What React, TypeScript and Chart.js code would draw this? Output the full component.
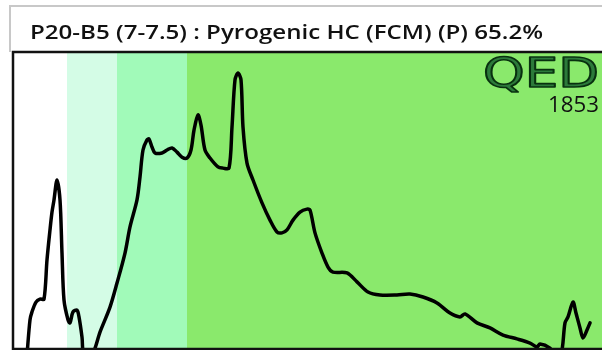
import React, { useEffect, useRef } from "react";
import { Chart, registerables } from "chart.js";

Chart.register(...registerables);

const TITLE = "P20-B5 (7-7.5) : Pyrogenic HC (FCM) (P) 65.2%";
const LOGO = "QED";
const LOGO_YEAR = "1853";

// band boundaries (x units) and colours
const bandEdges = [0, 5.5, 10.5, 17.5, 59];
const bandColors = ["#ffffff", "#d4fce6", "#a1fab9", "#8ae96c"];

// trace: x (retention units) and signal (%)
const traceX = [
  1.5, 1.8, 2.0, 2.4, 2.8, 3.2, 3.5, 3.8, 4.0, 4.2, 4.5, 4.8, 5.0, 5.2, 5.6, 5.8,
  6.1, 6.5, 6.7, 7.0, 7.2, 8.0, 8.8, 9.8, 10.5, 11.3, 11.8, 12.5, 12.8, 13.1,
  13.5, 13.7, 14.0, 14.3, 15.0, 15.5, 16.0, 16.5, 17.0, 17.5, 17.9, 18.2, 18.6,
  18.9, 19.3, 19.8, 20.6, 21.1, 21.7, 22.0, 22.3, 22.6, 22.9, 23.1, 23.5, 24.1,
  25.0, 25.8, 26.5, 27.0, 27.5, 28.1, 28.8, 29.5, 29.8, 30.3, 31.0, 31.6, 32.1,
  33.5, 34.5, 35.6, 36.8, 38.5, 39.8, 41.1, 42.5, 43.8, 44.8, 45.3, 46.5, 47.8,
  49.1, 50.5, 51.8, 52.5, 52.8, 53.8, 54.3, 54.9, 55.3, 55.6, 56.1, 56.4, 56.8,
  57.1, 57.5, 57.8,
];
const traceY = [
  -2, 9.8, 12.5, 15.8, 16.8, 16.8, 30.0, 40.1, 46.1, 50.2, 56.9, 50.2, 32.3, 16.5,
  9.8, 8.8, 12.5, 13.1, 10.8, 4.0, -2, -2, 5.7, 14.1, 22.2, 32.3, 41.1, 50.2,
  57.9, 67.0, 70.4, 70.7, 68.0, 66.0, 66.0, 67.0, 67.7, 66.3, 64.6, 64.3, 67.0,
  73.7, 78.8, 75.4, 67.0, 64.3, 61.3, 60.9, 60.9, 74.7, 90.6, 92.9, 90.6, 74.7,
  62.6, 56.9, 49.2, 43.4, 39.4, 39.1, 40.1, 43.4, 46.1, 47.1, 46.8, 39.1, 32.3,
  27.6, 25.9, 25.6, 22.6, 19.2, 18.2, 18.2, 18.5, 17.5, 15.5, 12.1, 10.8, 11.8,
  8.8, 7.1, 4.7, 3.4, 2.0, 0.7, 1.7, 0.3, -2, -2, 8.8, 10.8, 15.8, 12.1, 7.1,
  3.7, 6.4, 8.8,
];

const decorPlugin = {
  id: "decor",
  beforeDraw(chart: any) {
    const ctx = chart.ctx;
    ctx.save();
    ctx.fillStyle = "#ffffff";
    ctx.fillRect(0, 0, chart.width, chart.height);
    ctx.restore();
  },
  beforeDatasetsDraw(chart: any) {
    const { ctx, chartArea, scales } = chart;
    const xs = scales.x;
    ctx.save();
    for (let i = 0; i < bandColors.length; i++) {
      const x0 = Math.round(xs.getPixelForValue(bandEdges[i]));
      const x1 = Math.round(xs.getPixelForValue(bandEdges[i + 1]));
      ctx.fillStyle = bandColors[i];
      ctx.fillRect(x0, chartArea.top, x1 - x0, chartArea.bottom - chartArea.top);
    }
    ctx.restore();
  },
  afterDraw(chart: any) {
    const { ctx, chartArea } = chart;
    ctx.save();
    // outer grey frame of title box
    ctx.strokeStyle = "#c8c8c8";
    ctx.lineWidth = 2;
    ctx.beginPath();
    ctx.moveTo(10, chartArea.top);
    ctx.lineTo(10, 6);
    ctx.lineTo(chart.width, 6);
    ctx.stroke();

    // title
    ctx.fillStyle = "#111111";
    ctx.font = "600 20px 'Open Sans'";
    ctx.textBaseline = "alphabetic";
    const w = ctx.measureText(TITLE).width;
    const target = 513;
    ctx.save();
    ctx.translate(30, 39);
    ctx.scale(target / w, 1);
    ctx.fillText(TITLE, 0, 0);
    ctx.restore();

    // black plot frame
    ctx.strokeStyle = "#111111";
    ctx.lineWidth = 2.5;
    ctx.beginPath();
    ctx.moveTo(chart.width, chartArea.top);
    ctx.lineTo(chartArea.left + 1, chartArea.top);
    ctx.lineTo(chartArea.left + 1, chartArea.bottom);
    ctx.lineTo(chart.width, chartArea.bottom);
    ctx.stroke();

    // logo
    ctx.font = "40px 'DejaVu Sans'";
    const lw = ctx.measureText(LOGO).width;
    ctx.save();
    ctx.translate(483, 87);
    ctx.scale(116 / lw, 30 / 29);
    ctx.fillStyle = "#2c7a3a";
    ctx.strokeStyle = "#08300f";
    ctx.lineWidth = 1.6;
    ctx.lineJoin = "round";
    ctx.fillText(LOGO, 0, 0);
    ctx.strokeText(LOGO, 0, 0);
    ctx.restore();

    ctx.font = "500 21px 'Open Sans'";
    ctx.fillStyle = "#111111";
    const yw = ctx.measureText(LOGO_YEAR).width;
    ctx.save();
    ctx.translate(548, 112);
    ctx.scale(51 / yw, 1);
    ctx.fillText(LOGO_YEAR, 0, 0);
    ctx.restore();
    ctx.restore();
  },
};

export default function App() {
  const ref = useRef<HTMLCanvasElement | null>(null);
  useEffect(() => {
    if (!ref.current) return;
    const data = traceX.map((x, i) => ({ x, y: traceY[i] }));
    const chart = new Chart(ref.current, {
      type: "line",
      data: {
        datasets: [
          {
            data,
            borderColor: "#000000",
            borderWidth: 3.5,
            pointRadius: 0,
            tension: 0.3,
            fill: false,
            clip: 0,
            borderJoinStyle: "round",
            borderCapStyle: "round",
          } as any,
        ],
      },
      options: {
        responsive: false,
        animation: false,
        layout: { padding: { left: 12, top: 52, right: 0, bottom: 1 } },
        plugins: {
          legend: { display: false },
          title: { display: false },
          tooltip: { enabled: false },
        },
        scales: {
          x: { type: "linear", min: 0, max: 59, display: false },
          y: { type: "linear", min: 0, max: 100, display: false },
        },
      },
      plugins: [decorPlugin],
    });
    return () => chart.destroy();
  }, []);
  return (
    <div style={{ position: "absolute", left: 0, top: 0, width: 602, height: 350 }}>
      <canvas ref={ref} width={602} height={350} style={{ display: "block" }} />
    </div>
  );
}
